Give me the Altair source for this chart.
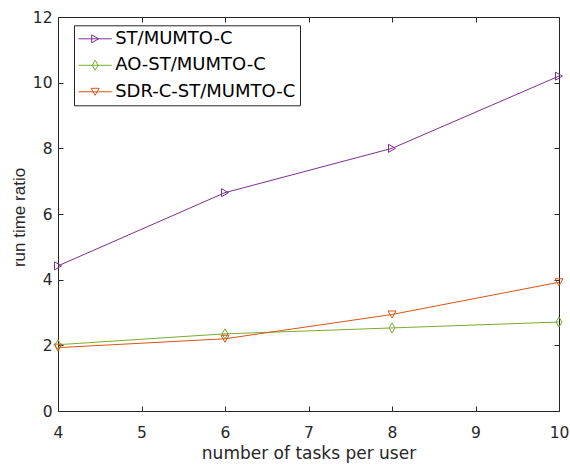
import altair as alt
import pandas as pd

# ---- data ----
tasks = [4, 6, 8, 10]
st_ratio = [4.42, 6.65, 8.00, 10.20]
ao_ratio = [2.02, 2.35, 2.53, 2.71]
sdr_ratio = [1.93, 2.20, 2.94, 3.92]
series_names = ["ST/MUMTO-C", "AO-ST/MUMTO-C", "SDR-C-ST/MUMTO-C"]
x_ticks = [4, 5, 6, 7, 8, 9, 10]
y_ticks = [0, 2, 4, 6, 8, 10, 12]

colors = ["#7E2F8E", "#77AC30", "#D95319"]
AX = "#262626"

rows = []
for name, vals in zip(series_names, [st_ratio, ao_ratio, sdr_ratio]):
    for t, v in zip(tasks, vals):
        rows.append({"tasks": t, "ratio": v, "series": name})
df = pd.DataFrame(rows)

# marker outlines (unit box), MATLAB-like '>', 'd', 'v'
marker_pts = [
    [(-0.7, -0.8), (0.7, 0.0), (-0.7, 0.8)],
    [(0.0, -1.0), (0.6, 0.0), (0.0, 1.0), (-0.6, 0.0)],
    [(-0.8, -0.7), (0.8, -0.7), (0.0, 0.7)],
]

MARKER_SIZE = 100          # unit = 5 px
LEG_SIZE = 324             # unit = 9 px
LINE_HALF_PX = 16.65       # half length of legend line sample
u_leg = (LEG_SIZE ** 0.5) / 2
u_mk = (MARKER_SIZE ** 0.5) / 2
a = LINE_HALF_PX / u_leg
k_leg = u_mk / u_leg


def make_path(pts, k=1.0, half_line=None):
    s = "M" + "L".join(f"{x * k:.4f},{y * k:.4f}" for x, y in pts) + "Z"
    if half_line is not None:
        s = f"M{-half_line:.4f},0L{half_line:.4f},0" + s
    return s


plot_shapes = [make_path(p) for p in marker_pts]
legend_shapes = [make_path(p, k_leg, a) for p in marker_pts]

W, H = 501, 394
xscale = alt.Scale(domain=[4, 10], nice=False, zero=False)
yscale = alt.Scale(domain=[0, 12], nice=False, zero=True)
cscale = alt.Scale(domain=series_names, range=colors)

axis_common = dict(
    offset=-5, tickSize=5, tickWidth=1, domain=False, grid=False,
    tickColor=AX, labelColor=AX, titleColor=AX, labelFlush=False,
    labelFont="DejaVu Sans", labelFontSize=15.5,
)

lines = alt.Chart(df).mark_line(strokeWidth=1).encode(
    x=alt.X("tasks:Q", scale=xscale,
            axis=alt.Axis(orient="bottom", values=x_ticks,
                          title="number of tasks per user",
                          labelPadding=26, labelBaseline="alphabetic",
                          titleFont="DejaVu Sans", titleFontSize=17,
                          titleFontWeight="normal", titleBaseline="alphabetic",
                          titleY=52, **axis_common)),
    y=alt.Y("ratio:Q", scale=yscale,
            axis=alt.Axis(orient="left", values=y_ticks,
                          title="run time ratio", labelPadding=6,
                          titleFont="Liberation Sans", titleFontSize=17,
                          titleFontWeight="normal", titleBaseline="alphabetic",
                          titleAngle=270, titleX=-39, titleY=200,
                          **axis_common)),
    color=alt.Color("series:N", scale=cscale, legend=None),
)

points = alt.Chart(df).mark_point(filled=False, size=MARKER_SIZE,
                                  strokeWidth=1, opacity=1).encode(
    x=alt.X("tasks:Q", scale=xscale,
            axis=alt.Axis(orient="top", values=x_ticks, labels=False,
                          title=None, **axis_common)),
    y=alt.Y("ratio:Q", scale=yscale,
            axis=alt.Axis(orient="right", values=y_ticks, labels=False,
                          title=None, **axis_common)),
    color=alt.Color("series:N", scale=cscale, legend=None),
    shape=alt.Shape("series:N",
                    scale=alt.Scale(domain=series_names, range=plot_shapes),
                    legend=None),
)

leg = alt.Legend(
    orient="none", legendX=16, legendY=8.3, title=None, direction="vertical",
    symbolSize=LEG_SIZE, symbolStrokeWidth=1, symbolOpacity=1,
    symbolOffset=LINE_HALF_PX - u_leg,
    labelFont="DejaVu Sans", labelFontSize=18, labelColor="black",
    labelOffset=10.5, labelLimit=400, padding=4, rowPadding=7.5,
    fillColor="white", strokeColor=AX,
)

legend_layer = alt.Chart(df).transform_filter("false").mark_point(
    filled=False, strokeWidth=1).encode(
    x=alt.X("tasks:Q", scale=xscale, axis=None),
    y=alt.Y("ratio:Q", scale=yscale, axis=None),
    color=alt.Color("series:N", scale=cscale, legend=leg),
    shape=alt.Shape("series:N",
                    scale=alt.Scale(domain=series_names, range=legend_shapes),
                    legend=leg),
)

chart = alt.layer(lines, points, legend_layer).resolve_scale(
    color="independent", shape="independent"
).resolve_axis(
    x="independent", y="independent"
).resolve_legend(
    color="independent", shape="independent"
).properties(
    width=W, height=H,
    autosize=alt.AutoSizeParams(type="none"),
    padding={"left": 58, "top": 17, "right": 11, "bottom": 53},
    background="white",
).configure_view(
    stroke=AX, strokeWidth=1
)

chart.save("out.html", embed_options={"renderer": "svg", "actions": False})
